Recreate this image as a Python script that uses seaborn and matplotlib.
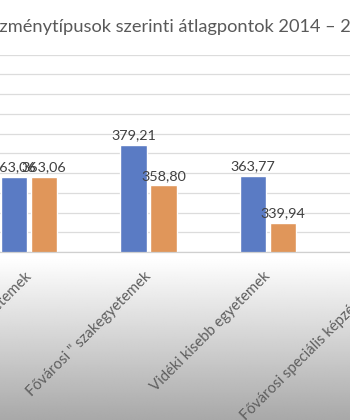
import numpy as np
import pandas as pd
import matplotlib
matplotlib.use("Agg")
import matplotlib.pyplot as plt
import seaborn as sns

sns.set_theme(style="white")
plt.rcParams['font.family'] = ['Lato', 'DejaVu Sans']

# ---- data ----
title = "Intézménytípusok szerinti átlagpontok 2014 – 2015"
categories = ["Vidéki nagy egyetemek",
              'Fővárosi " szakegyetemek',
              "Vidéki kisebb egyetemek",
              "Fővárosi speciális képzést adók"]
series_names = ["2014", "2015"]
values_a = [363.06, 379.21, 363.77, 376.70]
values_b = [363.06, 358.80, 339.94, 352.00]
y_min, y_max, y_step = 325, 425, 10

df = pd.DataFrame({
    "cat": categories * 2,
    "series": [series_names[0]] * len(categories) + [series_names[1]] * len(categories),
    "val": values_a + values_b,
})

blue = "#5A7BC4"
orange = "#E0965A"

W, H = 350, 420
fig = plt.figure(figsize=(W / 100, H / 100), dpi=100)
fig.patch.set_facecolor("white")
fig.canvas.draw()
rend = fig.canvas.get_renderer()


def fit_size(txt, target_w, fs0=10, **kw):
    tt = fig.text(0, 0, txt, fontsize=fs0, **kw)
    w = tt.get_window_extent(renderer=rend).width
    tt.remove()
    return fs0 * target_w / w


# background gradient (white -> grey toward the bottom)
bg = fig.add_axes([0, 0, 1, 1], zorder=0)
bg.axis("off")
ypix = np.arange(H)
g = np.ones(H)
start = 258
mask = ypix > start
g[mask] = 1 - (ypix[mask] - start) / (H - start) * 0.34
grad = np.repeat(g[:, None], 4, axis=1)
bg.imshow(grad, cmap="gray", vmin=0, vmax=1, extent=[0, 1, 0, 1], aspect="auto",
          interpolation="bilinear", origin="upper")

# main axes (extends beyond figure: chart is cropped)
px0 = 29.1       # pixel center of category 0
pstep = 119.4    # pixels per category
left_px = px0 - 0.5 * pstep
right_px = px0 + (len(categories) - 0.5) * pstep
top_px, base_px = 54.7, 252.0
ax = fig.add_axes([left_px / W, 1 - base_px / H, (right_px - left_px) / W,
                   (base_px - top_px) / H], zorder=1)
ax.set_facecolor("none")

sns.barplot(data=df, x="cat", y="val", hue="series", palette=[blue, orange],
            width=0.502, gap=0.123, saturation=1, legend=False, ax=ax)

ax.set_xlim(-0.5, len(categories) - 0.5)
ax.set_ylim(y_min, y_max)
ax.set_yticks(np.arange(y_min, y_max + 1, y_step))
ax.yaxis.grid(True, color="#dcdcdc", lw=0.9)
ax.set_axisbelow(True)
for s in ["left", "right", "top"]:
    ax.spines[s].set_visible(False)
ax.spines["bottom"].set_color("#d0d0d0")
ax.spines["bottom"].set_linewidth(0.9)
ax.set_xlabel("")
ax.set_ylabel("")

# tick label size: rotated "Vidéki kisebb egyetemek" spans ~125 px horizontally
fs_tick = fit_size(categories[2], 125, rotation=45)
ax.tick_params(left=False, labelleft=False, bottom=False, pad=10)
ax.set_xticks(range(len(categories)))
ax.set_xticklabels(categories, rotation=45, ha="right", va="center",
                   rotation_mode="anchor", fontsize=fs_tick, color="#5f5f5f")

# data labels: "379,21" is ~45 px wide
fs_lab = fit_size("379,21", 45)
for cont in ax.containers:
    ax.bar_label(cont, labels=[f"{v:.2f}".replace(".", ",") for v in cont.datavalues],
                 padding=2.5, fontsize=fs_lab, color="#404040", clip_on=False)

# title (left part cropped off): visible part spans the full width
fs_title = fit_size("zménytípusok szerinti átlagpontok 2014 – 2", 353)
t = fig.text(0, 1 - 27 / H, title, ha="left", va="center", fontsize=fs_title, color="#595959")
tmp = fig.text(0, 0, "Inté", fontsize=fs_title)
wpre = tmp.get_window_extent(renderer=rend).width
tmp.remove()
t.set_x(-wpre / W)

fig.savefig("out.png", dpi=100)
